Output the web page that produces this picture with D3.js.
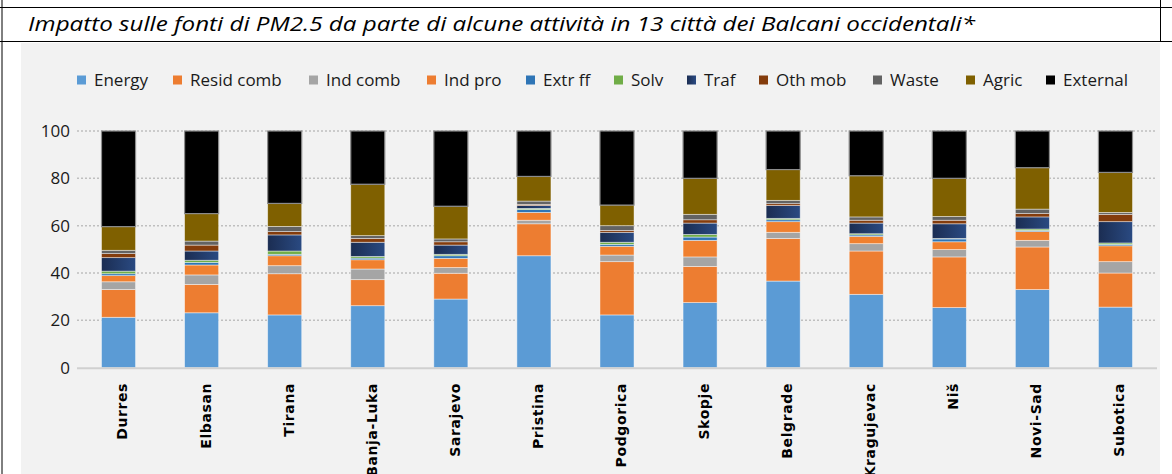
<!DOCTYPE html>
<html>
<head>
<meta charset="utf-8">
<script src="https://cdn.jsdelivr.net/npm/d3@7"></script>
<style>
  body { margin: 0; background: #fff; }
  svg { display: block; }
</style>
</head>
<body>
<div id="chart"></div>
<script>
var svgWidth = 1172, svgHeight = 474;

// data
var cities = ["Durres", "Elbasan", "Tirana", "Banja-Luka", "Sarajevo", "Pristina", "Podgorica",
    "Skopje", "Belgrade", "Kragujevac", "Niš", "Novi-Sad", "Subotica"];
var seriesNames = ["Energy", "Resid comb", "Ind comb", "Ind pro", "Extr ff", "Solv", "Traf",
    "Oth mob", "Waste", "Agric", "External"];
var energy    = [21.3, 23.2, 22.3, 26.2, 29.0, 47.3, 22.3, 27.5, 36.6, 31.0, 25.4, 33.0, 25.6];
var residComb = [11.7, 12.0, 17.4, 11.0, 10.9, 13.5, 22.5, 15.3, 18.0, 18.3, 21.4, 18.0, 14.4];
var indComb   = [3.3, 4.0, 3.4, 4.5, 2.4, 1.5, 2.8, 4.0, 2.6, 3.1, 3.1, 2.8, 4.8];
var indPro    = [2.6, 4.2, 4.2, 3.9, 3.9, 3.3, 3.7, 7.0, 4.5, 3.1, 3.3, 3.7, 6.7];
var extrFf    = [0.8, 1.1, 0.6, 0.7, 1.1, 1.2, 0.8, 1.4, 0.8, 0.6, 1.2, 0.5, 0.6];
var solv      = [1.1, 0.9, 1.4, 0.7, 0.6, 0.5, 0.9, 1.1, 0.6, 0.5, 0.2, 0.6, 0.6];
var traf      = [5.7, 3.9, 6.8, 6.0, 3.9, 1.2, 4.2, 4.8, 5.4, 4.5, 6.2, 5.1, 9.0];
var othMob    = [1.7, 2.5, 1.4, 1.6, 1.4, 0.5, 0.8, 1.4, 0.8, 1.2, 1.5, 1.4, 3.1];
var waste     = [1.4, 1.7, 2.2, 1.2, 1.2, 1.4, 2.0, 2.3, 1.4, 1.4, 1.6, 1.9, 0.8];
var agric     = [10.0, 11.6, 9.7, 21.7, 13.8, 10.4, 8.7, 15.2, 13.0, 17.4, 16.1, 17.5, 16.9];
var external  = [40.4, 34.9, 30.6, 22.5, 31.8, 19.2, 31.3, 20.0, 16.3, 18.9, 20.0, 15.5, 17.5];
var yTicks = [0, 20, 40, 60, 80, 100];

var seriesValues = [energy, residComb, indComb, indPro, extrFf, solv, traf, othMob, waste, agric, external];
var colors = ["#5B9BD5", "#ED7D31", "#A5A5A5", "#F0802F", "#2E75B6", "#70AD47", "url(#trafGrad)",
    "#843C0C", "#636363", "#7F6000", "#000000"];
var legendColors = ["#5B9BD5", "#ED7D31", "#A5A5A5", "#ED7D31", "#2E75B6", "#70AD47", "url(#trafGrad)",
    "#843C0C", "#636363", "#7F6000", "#000000"];

// table for d3.stack
var table = cities.map(function(c, i) {
    var row = { city: c };
    seriesNames.forEach(function(s, j) { row[s] = seriesValues[j][i]; });
    return row;
});

var svg = d3.select("#chart").append("svg")
    .attr("width", svgWidth)
    .attr("height", svgHeight);

var defs = svg.append("defs");
var grad = defs.append("linearGradient").attr("id", "trafGrad")
    .attr("x1", "0").attr("x2", "1").attr("y1", "0").attr("y2", "0");
grad.append("stop").attr("offset", "0%").attr("stop-color", "#1B2D52");
grad.append("stop").attr("offset", "100%").attr("stop-color", "#2A4A82");

// table frame
svg.append("rect").attr("x", 21).attr("y", 43).attr("width", 1139).attr("height", 431).attr("fill", "#F2F2F2");
svg.append("line").attr("x1", 0).attr("x2", svgWidth).attr("y1", 7.5).attr("y2", 7.5).attr("stroke", "#000");
svg.append("line").attr("x1", 0).attr("x2", svgWidth).attr("y1", 41.5).attr("y2", 41.5).attr("stroke", "#000");
svg.append("line").attr("x1", 2).attr("x2", 2).attr("y1", 0).attr("y2", svgHeight).attr("stroke", "#000");
svg.append("line").attr("x1", 1160.5).attr("x2", 1160.5).attr("y1", 0).attr("y2", 41).attr("stroke", "#000");

// title
svg.append("text")
    .attr("x", 28).attr("y", 31)
    .attr("textLength", 947).attr("lengthAdjust", "spacingAndGlyphs")
    .style("font-family", "'Open Sans', 'Noto Sans', sans-serif")
    .style("font-style", "italic")
    .style("font-size", "20px")
    .attr("fill", "#000")
    .text("Impatto sulle fonti di PM2.5 da parte di alcune attività in 13 città dei Balcani occidentali*");

// scales
var xScale = d3.scaleBand().domain(cities).range([77, 1157]).paddingInner(0.59).paddingOuter(0.295);
var yScale = d3.scaleLinear().domain([0, 100]).range([367.7, 131]);

// grid
svg.append("g").selectAll("line")
    .data(yTicks.filter(function(d) { return d > 0; }))
    .enter().append("line")
    .attr("x1", 77).attr("x2", 1157)
    .attr("y1", function(d) { return yScale(d); })
    .attr("y2", function(d) { return yScale(d); })
    .attr("stroke", "#BFBFBF")
    .attr("stroke-width", 1.5)
    .attr("stroke-dasharray", "2,2");

// y axis
var yAxis = svg.append("g")
    .attr("transform", "translate(77,0)")
    .call(d3.axisLeft(yScale).tickValues(yTicks).tickSize(0).tickPadding(7));
yAxis.select(".domain").remove();
yAxis.selectAll(".tick text")
    .style("font-family", "'Open Sans', sans-serif")
    .style("font-size", "17px")
    .attr("fill", "#1A1A1A");

// bars
var stack = d3.stack().keys(seriesNames);
var layers = stack(table);

svg.append("g").selectAll("g")
    .data(layers)
    .enter().append("g")
    .attr("fill", function(d, i) { return colors[i]; })
    .selectAll("rect")
    .data(function(d) { return d.map(function(p) { p.key = d.key; return p; }); })
    .enter().append("rect")
    .attr("x", function(d) { return xScale(d.data.city); })
    .attr("y", function(d) { return yScale(d[1]); })
    .attr("width", xScale.bandwidth())
    .attr("height", function(d) { return yScale(d[0]) - yScale(d[1]); })
    .attr("stroke", function(d) { return d.key === "External" ? "#8C8C8C" : "rgba(255,255,255,0.55)"; })
    .attr("stroke-width", function(d) { return d.key === "External" ? 1.2 : 0.8; });

// x axis line
svg.append("line")
    .attr("x1", 77).attr("x2", 1157)
    .attr("y1", yScale(0) + 0.5).attr("y2", yScale(0) + 0.5)
    .attr("stroke", "#D0D0D0").attr("stroke-width", 2);

// city labels
svg.append("g").selectAll("text")
    .data(cities)
    .enter().append("text")
    .attr("transform", function(d) {
        return "translate(" + (xScale(d) + xScale.bandwidth() / 2 + 4) + ",383) rotate(-90)";
    })
    .attr("dy", "0.35em")
    .attr("text-anchor", "end")
    .style("font-family", "'DejaVu Sans', sans-serif")
    .style("font-size", "14px")
    .style("font-weight", "bold")
    .style("letter-spacing", "0.6px")
    .attr("fill", "#000")
    .text(function(d) { return d; });

// legend (item start positions follow the original layout)
var legendX = [77, 173, 309, 427, 526, 614, 687, 759, 873, 966, 1046];
var legend = svg.append("g").selectAll("g")
    .data(seriesNames)
    .enter().append("g")
    .attr("transform", function(d, i) { return "translate(" + legendX[i] + ",80)"; });
legend.append("rect")
    .attr("x", 0).attr("y", -4.5)
    .attr("width", 9).attr("height", 9)
    .attr("fill", function(d, i) { return legendColors[i]; });
legend.append("text")
    .attr("x", 17).attr("dy", "0.35em")
    .style("font-family", "'Open Sans', sans-serif")
    .style("font-size", "17px")
    .attr("fill", "#1A1A1A")
    .text(function(d) { return d; });
</script>
</body>
</html>
